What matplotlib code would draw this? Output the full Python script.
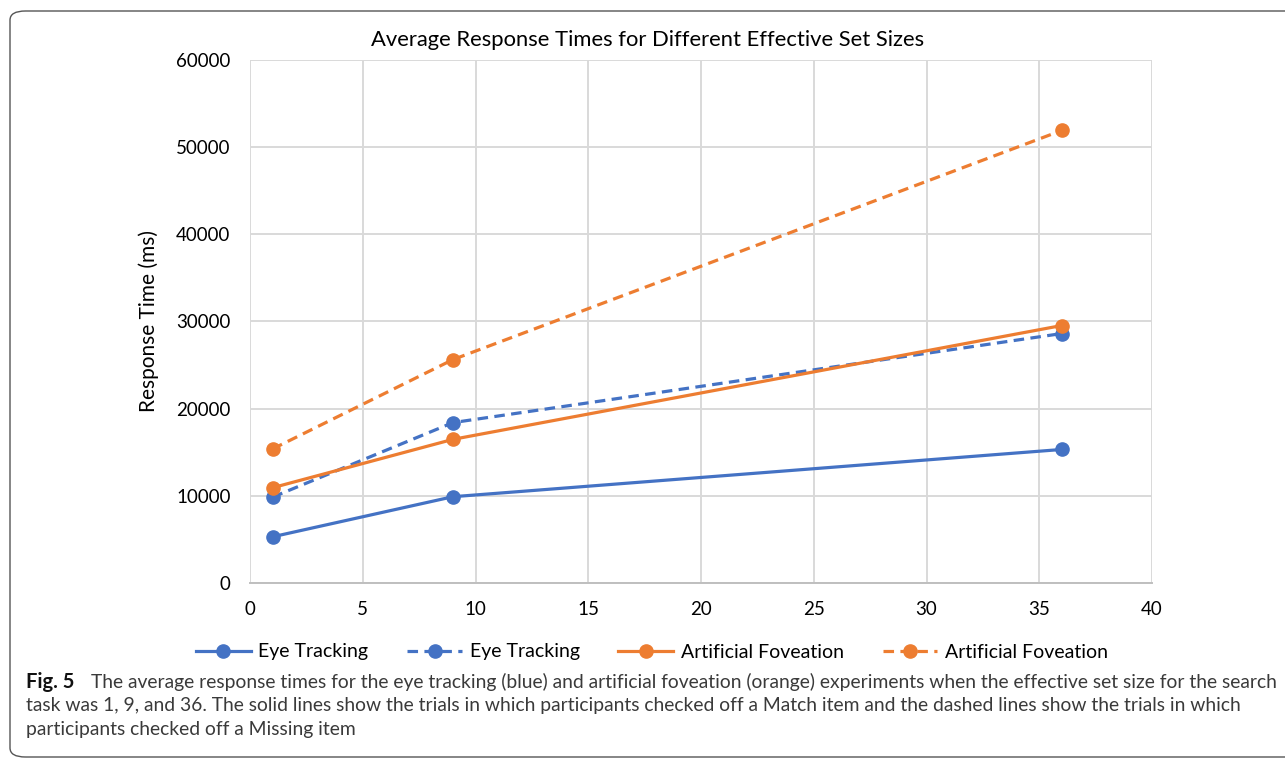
import matplotlib
matplotlib.use("Agg")
import matplotlib.pyplot as plt
from matplotlib.patches import FancyBboxPatch
from matplotlib.lines import Line2D

# Data
set_sizes = [1, 9, 36]
eye_match = [5300, 9900, 15320]
eye_missing = [9850, 18400, 28620]
fov_match = [10930, 16480, 29540]
fov_missing = [15380, 25630, 51920]

series_labels = ["Eye Tracking", "Eye Tracking", "Artificial Foveation", "Artificial Foveation"]
title = "Average Response Times for Different Effective Set Sizes"
y_label = "Response Time (ms)"
caption_bold = "Fig. 5"
caption_lines = [
    "The average response times for the eye tracking (blue) and artificial foveation (orange) experiments when the effective set size for the search",
    "task was 1, 9, and 36. The solid lines show the trials in which participants checked off a Match item and the dashed lines show the trials in which",
    "participants checked off a Missing item",
]

BLUE = "#4472C4"
ORANGE = "#ED7D31"
GRID = "#D9D9D9"
W, H = 1285, 759

plt.rcParams['font.family'] = ['Lato', 'DejaVu Sans']

fig = plt.figure(figsize=(W / 100, H / 100), dpi=100)
fig.patch.set_facecolor("white")

# rounded frame around the figure panel (runs off the right edge)
frame = FancyBboxPatch((10 / W, 2 / H), 1.2, (H - 13) / H,
                       boxstyle="round,pad=0,rounding_size=0.012",
                       transform=fig.transFigure, fill=False,
                       edgecolor="#555555", linewidth=1.0, clip_on=False)
fig.patches.append(frame)

ax = fig.add_axes([250 / W, (H - 583) / H, 902 / W, 523 / H])

dash = (3.3, 2.0)
lw = 2.3
ms = 9.5
ax.plot(set_sizes, eye_match, color=BLUE, lw=lw, marker="o", ms=ms, zorder=3)
ax.plot(set_sizes, eye_missing, color=BLUE, lw=lw, marker="o", ms=ms,
        linestyle=(0, dash), zorder=3)
ax.plot(set_sizes, fov_match, color=ORANGE, lw=lw, marker="o", ms=ms, zorder=3)
ax.plot(set_sizes, fov_missing, color=ORANGE, lw=lw, marker="o", ms=ms,
        linestyle=(0, dash), zorder=3)

ax.set_xlim(0, 40)
ax.set_ylim(0, 60000)
ax.set_xticks(range(0, 41, 5))
ax.set_yticks(range(0, 60001, 10000))
ax.grid(True, color=GRID, linewidth=1.4)
ax.set_axisbelow(True)
for side in ["top", "right", "left"]:
    ax.spines[side].set_visible(False)
ax.spines["bottom"].set_color("#BFBFBF")
ax.spines["bottom"].set_linewidth(1.4)
ax.tick_params(length=0, labelsize=13.5, colors="black")
ax.tick_params(axis="y", pad=14)
ax.tick_params(axis="x", pad=13)

ax.set_ylabel(y_label, fontsize=15, labelpad=12)
fig.text(648 / W, (H - 40) / H, title, ha="center", va="center", fontsize=15.8)

# legend
handles = [
    Line2D([], [], color=BLUE, lw=lw, marker="o", ms=ms),
    Line2D([], [], color=BLUE, lw=lw, marker="o", ms=ms, linestyle=(0, dash)),
    Line2D([], [], color=ORANGE, lw=lw, marker="o", ms=ms),
    Line2D([], [], color=ORANGE, lw=lw, marker="o", ms=ms, linestyle=(0, dash)),
]
fig.legend(handles, series_labels, loc="center", ncol=4, frameon=False,
           bbox_to_anchor=(652 / W, (H - 652) / H), fontsize=14,
           handlelength=2.8, handletextpad=0.4, columnspacing=2.0)

# caption
cap_color = "#3a3a3a"
cap_size = 13.9
fig.text(26 / W, (H - 682) / H, caption_bold, fontsize=14.5, fontweight="bold",
         ha="left", va="center", color="#111111")
fig.text(91 / W, (H - 682) / H, caption_lines[0], fontsize=cap_size,
         ha="left", va="center", color=cap_color)
fig.text(26 / W, (H - 706) / H, caption_lines[1], fontsize=cap_size,
         ha="left", va="center", color=cap_color)
fig.text(26 / W, (H - 730) / H, caption_lines[2], fontsize=cap_size,
         ha="left", va="center", color=cap_color)

fig.savefig("out.png", dpi=100, facecolor="white")
